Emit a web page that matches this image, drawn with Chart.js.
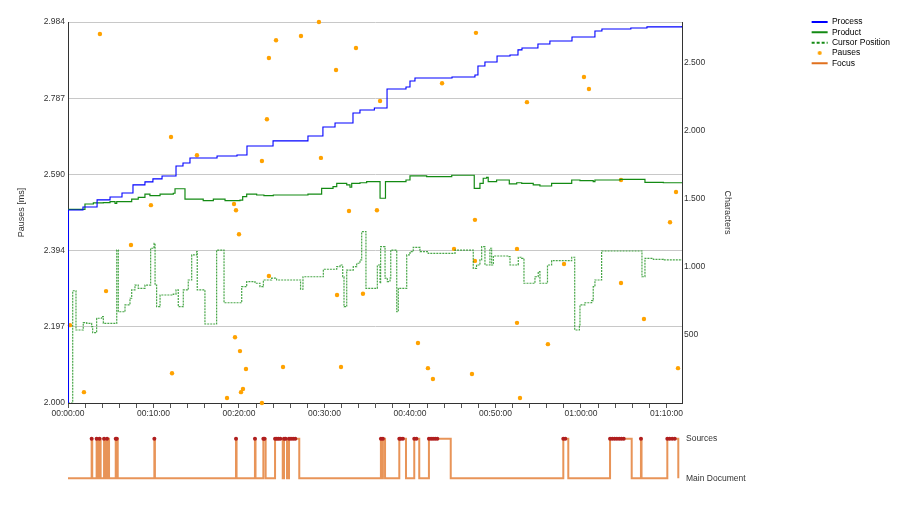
<!DOCTYPE html>
<html>
<head>
<meta charset="utf-8">
<script src="https://cdn.jsdelivr.net/npm/chart.js@4.4.1/dist/chart.umd.min.js"></script>
<style>
  body { margin: 0; background: #fff; }
  #wrap { position: relative; width: 900px; height: 530px; }
  #mainBox { position: absolute; left: 0; top: 0; width: 900px; height: 425px; }
  #focusBox { position: absolute; left: 0; top: 425px; width: 900px; height: 80px; }
</style>
</head>
<body>
<div id="wrap">
  <div id="mainBox"><canvas id="mainChart"></canvas></div>
  <div id="focusBox"><canvas id="focusChart"></canvas></div>
</div>
<script>
// time in seconds
const processT = [0, 3, 105, 204, 295, 379, 456, 540, 596, 660, 758, 807, 856, 1046, 1186, 1256, 1439, 1684, 1789, 1874, 2000, 2049, 2150, 2239, 2372, 2400, 2435, 2695, 2856, 2877, 2926, 3011, 3102, 3158, 3186, 3298, 3382, 3537, 3698, 3747, 3950, 4063, 4309];
const processC = [0, 1417, 1439, 1491, 1512, 1542, 1601, 1623, 1645, 1667, 1740, 1762, 1799, 1813, 1821, 1887, 1924, 1960, 2026, 2055, 2129, 2151, 2166, 2305, 2320, 2364, 2386, 2393, 2408, 2474, 2503, 2547, 2555, 2592, 2606, 2635, 2657, 2687, 2731, 2746, 2753, 2761, 2768];

const productT = [0, 3, 119, 178, 248, 295, 330, 342, 447, 493, 540, 575, 646, 739, 751, 821, 949, 1020, 1102, 1207, 1226, 1254, 1324, 1375, 1441, 1684, 1780, 1860, 1886, 1956, 1979, 1991, 2049, 2096, 2190, 2228, 2372, 2400, 2517, 2693, 2851, 2891, 2914, 2938, 2949, 3008, 3097, 3149, 3184, 3265, 3312, 3394, 3535, 3593, 3686, 3698, 3874, 4049, 4178, 4309];
const productC = [0, 1422, 1461, 1469, 1471, 1478, 1466, 1478, 1496, 1510, 1534, 1522, 1534, 1540, 1573, 1496, 1485, 1496, 1485, 1490, 1515, 1534, 1527, 1522, 1527, 1534, 1576, 1588, 1613, 1601, 1584, 1613, 1617, 1625, 1503, 1625, 1637, 1667, 1662, 1672, 1576, 1613, 1650, 1657, 1625, 1637, 1608, 1617, 1613, 1601, 1593, 1613, 1637, 1632, 1625, 1637, 1642, 1620, 1617, 1617];

const cursorT = [0, 33, 56, 107, 131, 166, 173, 201, 236, 248, 342, 353, 400, 435, 447, 470, 493, 540, 580, 604, 611, 622, 646, 739, 758, 774, 809, 844, 868, 903, 907, 961, 1043, 1095, 1219, 1254, 1312, 1347, 1371, 1429, 1464, 1632, 1649, 1792, 1886, 1909, 1928, 1937, 1956, 2002, 2026, 2049, 2061, 2091, 2171, 2190, 2194, 2225, 2241, 2260, 2265, 2307, 2318, 2377, 2400, 2423, 2470, 2528, 2716, 2844, 2867, 2891, 2903, 2926, 2961, 2973, 2985, 3090, 3102, 3160, 3184, 3200, 3277, 3300, 3312, 3365, 3394, 3535, 3556, 3589, 3593, 3628, 3675, 3686, 3698, 3745, 4028, 4049, 4108, 4178, 4309];
const cursorC = [0, 824, 536, 590, 585, 560, 516, 622, 634, 585, 1123, 670, 720, 769, 830, 866, 842, 866, 1136, 1172, 866, 707, 793, 800, 830, 707, 830, 903, 1087, 1111, 830, 580, 1123, 736, 854, 891, 879, 854, 903, 916, 903, 835, 927, 982, 1001, 1013, 927, 707, 976, 1001, 1026, 1050, 1258, 842, 1013, 879, 1148, 916, 891, 916, 1123, 670, 842, 1087, 1111, 1143, 1111, 1099, 1123, 989, 1013, 1050, 1148, 1013, 1136, 1013, 1079, 1074, 1013, 1070, 1062, 879, 927, 964, 879, 1013, 1045, 1070, 536, 573, 720, 736, 751, 854, 903, 1116, 927, 1062, 1055, 1050, 1050];

const pauseT = [224, 723, 905, 1460, 1410, 1396, 1361, 1635, 1761, 2021, 1881, 2190, 1775, 2625, 2863, 3221, 3621, 3656, 3881, 4267, 582, 1165, 1179, 1200, 442, 267, 14, 1410, 1172, 1207, 1249, 1509, 730, 1228, 1214, 112, 1116, 1361, 1972, 2168, 2856, 4225, 2709, 3151, 2856, 3481, 3881, 1888, 2070, 4042, 3151, 2456, 3368, 1916, 2526, 2561, 2835, 4281, 3172];
const pauseMs = [2953, 2687, 2640, 2937, 2891, 2733, 2625, 2948, 2984, 2917, 2860, 2780, 2633, 2826, 2956, 2777, 2842, 2811, 2576, 2545, 2511, 2514, 2498, 2436, 2408, 2289, 2201, 2328, 2170, 2134, 2088, 2093, 2077, 2036, 2028, 2028, 2013, 2000, 2496, 2498, 2473, 2467, 2398, 2398, 2367, 2359, 2310, 2279, 2282, 2217, 2207, 2155, 2152, 2093, 2090, 2062, 2075, 2090, 2013];

// focus: 1 = Sources, 0 = Main Document
const focusT = [0, 166, 170, 201, 211, 221, 229, 253, 267, 274, 288, 335, 342, 349, 606, 610, 1179, 1183, 1312, 1316, 1371, 1379, 1387, 1453, 1465, 1477, 1490, 1507, 1516, 1527, 1537, 1551, 1565, 1580, 1595, 1623, 2196, 2203, 2210, 2225, 2325, 2335, 2350, 2372, 2430, 2445, 2465, 2533, 2548, 2562, 2577, 2592, 2686, 3476, 3490, 3511, 3804, 3820, 3836, 3852, 3868, 3884, 3900, 3956, 4021, 4025, 4206, 4222, 4240, 4258, 4283];
const focusV = [0, 1, 0, 1, 0, 1, 0, 1, 0, 1, 0, 1, 1, 0, 1, 0, 1, 0, 1, 0, 1, 1, 0, 1, 1, 1, 1, 0, 1, 1, 0, 1, 1, 1, 1, 0, 1, 0, 1, 0, 1, 1, 1, 0, 1, 1, 0, 1, 1, 1, 1, 1, 0, 1, 1, 0, 1, 1, 1, 1, 1, 1, 1, 0, 1, 0, 1, 1, 1, 1, 0];
const focusLevels = ['Main Document', 'Sources'];

const pauseTicks = [2000, 2197, 2394, 2590, 2787, 2984];
const charTicks = [500, 1000, 1500, 2000, 2500];
const xMax = 4309;
const xMinorStep = 120;   // a tick mark every 2 minutes
const xLabelStep = 600;   // a label every 10 minutes
const charMax = 2797;

const font = "'Liberation Sans', Arial, sans-serif";
const blue = '#0000ff', green = '#138a13', cursorGreen = 'rgba(40,150,40,0.85)';
const orange = '#ffa200', focusColor = 'rgba(224,112,32,0.75)', focusDot = '#b01e1e';

Chart.defaults.font.family = font;
Chart.defaults.font.size = 8.5;
Chart.defaults.color = '#333';

function pts(xs, ys) {
    return xs.map((x, i) => ({ x: x, y: ys[i] }));
}

function hms(s) {
    const h = Math.floor(s / 3600), m = Math.floor((s % 3600) / 60), sec = s % 60;
    return [h, m, sec].map(n => String(n).padStart(2, '0')).join(':');
}

function thousands(v) {
    return v >= 1000 ? (v / 1000).toFixed(3) : String(v);
}

// small orange dot used as the legend symbol for the pauses
const dot = document.createElement('canvas');
dot.width = dot.height = 6;
const dctx = dot.getContext('2d');
dctx.fillStyle = orange;
dctx.beginPath();
dctx.arc(3, 3, 2, 0, Math.PI * 2);
dctx.fill();

new Chart(document.getElementById('mainChart'), {
    type: 'line',
    data: {
        datasets: [
            { label: 'Process', data: pts(processT, processC), yAxisID: 'y2', borderColor: blue, borderWidth: 1.1, stepped: true, pointRadius: 0 },
            { label: 'Product', data: pts(productT, productC), yAxisID: 'y2', borderColor: green, borderWidth: 1.2, stepped: true, pointRadius: 0 },
            { label: 'Cursor Position', data: pts(cursorT, cursorC), yAxisID: 'y2', borderColor: cursorGreen, borderWidth: 1.2, borderDash: [2, 1], stepped: true, pointRadius: 0 },
            { label: 'Pauses', data: pts(pauseT, pauseMs), yAxisID: 'y', showLine: false, pointRadius: 2.2, pointBackgroundColor: orange, pointBorderWidth: 0, clip: 4 }
        ]
    },
    options: {
        responsive: true,
        maintainAspectRatio: false,
        animation: false,
        layout: { padding: { top: 16, right: 0, bottom: 0, left: 0 } },
        plugins: {
            tooltip: { enabled: false },
            legend: {
                position: 'right',
                align: 'start',
                onClick: null,
                labels: {
                    usePointStyle: true,
                    pointStyleWidth: 16,
                    padding: 1.8,
                    color: '#222',
                    font: { size: 8.5 },
                    generateLabels: () => [
                        { text: 'Process', strokeStyle: blue, fillStyle: blue, lineWidth: 2, pointStyle: 'line', hidden: false },
                        { text: 'Product', strokeStyle: green, fillStyle: green, lineWidth: 2, pointStyle: 'line', hidden: false },
                        { text: 'Cursor Position', strokeStyle: green, fillStyle: green, lineWidth: 2, lineDash: [3, 2], pointStyle: 'line', hidden: false },
                        { text: 'Pauses', strokeStyle: orange, fillStyle: orange, lineWidth: 0, pointStyle: dot, hidden: false },
                        { text: 'Focus', strokeStyle: '#e0701e', fillStyle: '#e0701e', lineWidth: 2, pointStyle: 'line', hidden: false }
                    ]
                }
            }
        },
        scales: {
            x: {
                type: 'linear',
                min: 0,
                max: xMax,
                border: { color: '#333' },
                grid: { drawOnChartArea: false, drawTicks: true, tickLength: 5, color: '#555' },
                ticks: {
                    autoSkip: false,
                    maxRotation: 0,
                    padding: 1,
                    callback: v => (Math.round(v) % xLabelStep === 0 ? hms(Math.round(v)) : '')
                },
                afterBuildTicks: s => {
                    const t = [];
                    for (let v = 0; v <= xMax; v += xMinorStep) t.push({ value: v });
                    s.ticks = t;
                },
                afterFit: s => { s.height = 22; }
            },
            y: {
                position: 'left',
                min: 2000,
                max: 2984,
                border: { color: '#333' },
                grid: { color: '#c8c8c8', drawTicks: false },
                ticks: { padding: 3, callback: v => thousands(v) },
                title: { display: true, text: 'Pauses [ms]', font: { size: 9 }, padding: { top: 16.6, bottom: 0 } },
                afterBuildTicks: s => { s.ticks = pauseTicks.map(v => ({ value: v })); },
                afterFit: s => { s.width = 68; s.paddingTop = 22; }
            },
            y2: {
                position: 'right',
                min: 0,
                max: charMax,
                border: { color: '#333' },
                grid: { display: false, drawTicks: false },
                ticks: { padding: 2, callback: v => thousands(v) },
                title: { display: true, text: 'Characters', font: { size: 9 }, padding: { top: 77, bottom: 0 } },
                afterBuildTicks: s => { s.ticks = charTicks.map(v => ({ value: v })); },
                afterFit: s => { s.width = s.chart.width - s.chart.legend.width - 682; }
            }
        }
    }
});

new Chart(document.getElementById('focusChart'), {
    type: 'line',
    data: {
        datasets: [{
            label: 'Focus',
            data: pts(focusT, focusV),
            borderColor: focusColor,
            borderWidth: 2,
            stepped: true,
            pointRadius: ctx => (ctx.raw && ctx.raw.y === 1 ? 2 : 0),
            pointBackgroundColor: focusDot,
            pointBorderWidth: 0,
            clip: 4
        }]
    },
    options: {
        responsive: true,
        maintainAspectRatio: false,
        animation: false,
        layout: { padding: { top: 5, right: 0, bottom: 22, left: 68 } },
        plugins: { legend: { display: false }, tooltip: { enabled: false } },
        scales: {
            x: { type: 'linear', min: 0, max: xMax, display: false },
            y: {
                position: 'right',
                min: -0.12,
                max: 1.12,
                border: { display: false },
                grid: { display: false, drawTicks: false },
                ticks: { padding: 4, color: '#333', callback: v => focusLevels[v] || '' },
                afterBuildTicks: s => { s.ticks = [{ value: 0 }, { value: 1 }]; },
                afterFit: s => { s.width = 900 - 682; }
            }
        }
    }
});
</script>
</body>
</html>
